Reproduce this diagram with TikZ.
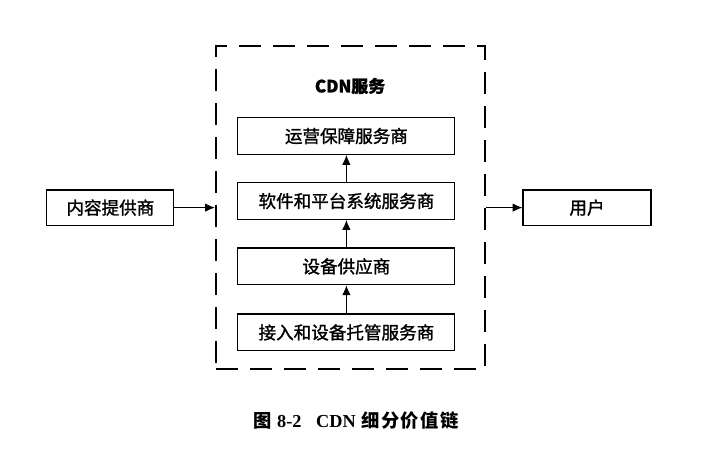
\documentclass[tikz,border=0pt]{standalone}
\usepackage{fontspec}
\usetikzlibrary{arrows.meta}
\setmainfont{Liberation Serif}
\newfontfamily\cjk[FakeBold=1.3]{Noto Sans CJK SC}
\newfontfamily\cjkcap[LetterSpace=8]{Noto Sans CJK SC}

\begin{document}
\begin{tikzpicture}[
    box/.style={draw, line width=0.8pt, minimum width=5.425cm, minimum height=0.92cm,
        font=\cjk\fontsize{12.5}{14}\selectfont},
    sidebox/.style={box, minimum width=3.2cm, minimum height=0.88cm},
    flow/.style={-{Latex[length=7pt,width=6pt]}, line width=0.7pt}
]

% Frame
\useasboundingbox (0,0) rectangle (17.55,11.45);

% CDN service container
\node[draw, line width=1.5pt, dash pattern=on 0.55cm off 0.3cm,
    minimum width=6.725cm, minimum height=8.075cm] (cdn) at (8.7625,6.2625) {};
\node[font=\cjk\bfseries\fontsize{12}{14}\selectfont] (title) at (8.75,9.3) {CDN服务};

% Value chain boxes
\node[box] (ops) at (8.66,8.05) {运营保障服务商};
\node[box] (soft) at (8.66,6.425) {软件和平台系统服务商};
\node[box] (equip) at (8.66,4.79) {设备供应商};
\node[box] (host) at (8.66,3.14) {接入和设备托管服务商};

% Outside boxes
\node[sidebox, minimum width=3.175cm] (content) at (2.76,6.26) {内容提供商};
\node[sidebox] (user) at (14.675,6.26) {用户};

% Arrows
\draw[flow] (host) -- (equip);
\draw[flow] (equip) -- (soft);
\draw[flow] (soft) -- (ops);
\draw[flow] (content) -- (content -| cdn.west);
\draw[flow] (user -| cdn.east) -- (user);

% Caption
\node[font=\bfseries\fontsize{13}{15}\selectfont] (caption) at (8.9,0.925)
    {{\cjkcap 图}\hspace{0.3em}8-2\hspace{0.8em}CDN\hspace{0.3em}{\cjkcap 细分价值链}};

\end{tikzpicture}
\end{document}
